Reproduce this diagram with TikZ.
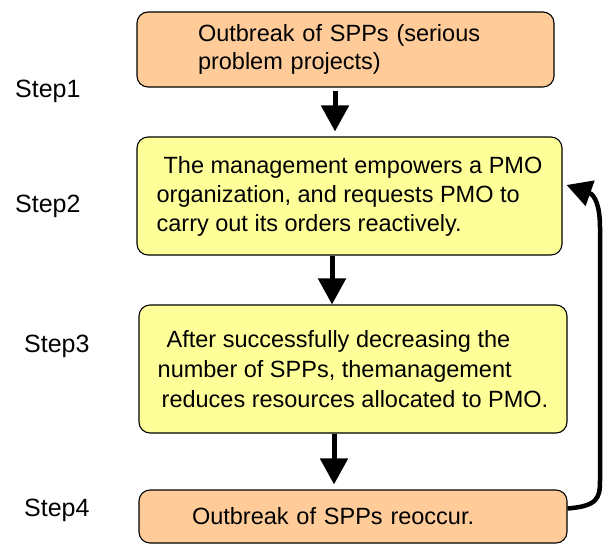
\documentclass[tikz,border=0pt]{standalone}
\usepackage{fontspec}
\setmainfont{Liberation Sans}
\usetikzlibrary{arrows.meta}
\definecolor{peach}{HTML}{FFCC99}
\definecolor{lyellow}{HTML}{FFFF99}
\tikzset{
  box/.style={draw=black, line width=1.1pt, rounded corners=11pt, inner sep=0pt,
    align=left, font=\fontsize{23.5}{29}\selectfont},
  orangebox/.style={box, fill=peach},
  yellowbox/.style={box, fill=lyellow},
  steplabel/.style={anchor=base west, inner sep=0pt, font=\fontsize{25}{30}\selectfont},
  downarrow/.style={line width=5pt, -{Triangle[length=26pt,width=27pt]}},
  backarrow/.style={line width=4.5pt, -{Triangle[length=25pt,width=26pt]}}
}
\begin{document}
\begin{tikzpicture}[x=1pt,y=-1pt]
\useasboundingbox (0,0) rectangle (604,544);
\node[orangebox, minimum width=417pt, minimum height=75pt, text width=295pt, font=\fontsize{23.5}{28}\selectfont] (b1) at (345.5,49.5)
  {Outbreak of SPPs (serious\\problem projects)};
\node[yellowbox, minimum width=425pt, minimum height=118pt] (b2) at (349.5,196)
  {\hspace{7pt}The management empowers a PMO\\organization, and requests PMO to\\carry out its orders reactively.};
\node[yellowbox, minimum width=428pt, minimum height=128pt, font=\fontsize{23.5}{30}\selectfont] (b3) at (353,369)
  {\hspace{9pt}After successfully decreasing the\\number of SPPs, themanagement\\\hspace{4pt}reduces resources allocated to PMO.};
\node[orangebox, minimum width=428pt, minimum height=53pt, text width=322pt] (b4) at (353,516.5)
  {Outbreak of SPPs reoccur.};
\node[steplabel] (s1) at (15,97) {Step1};
\node[steplabel] (s2) at (15,212) {Step2};
\node[steplabel] (s3) at (24,352) {Step3};
\node[steplabel] (s4) at (24,516) {Step4};
\draw[downarrow, shorten <=3pt, shorten >=5pt] ([xshift=-10.5pt]b1.south) -- ([xshift=-14.5pt]b2.north);
\draw[downarrow, shorten >=0pt] ([xshift=-17.5pt]b2.south) -- ([xshift=-21pt]b3.north);
\draw[downarrow, shorten >=5pt] ([xshift=-19pt]b3.south) -- ([xshift=-19pt]b4.north);
\coordinate (fbstart) at ([yshift=8pt]b4.east);
\coordinate (fbend) at ([shift={(4pt,11pt)}]b2.east);
\draw[backarrow] (fbstart) .. controls (598,506) and (600,498) .. (600,480)
  -- (600,228) .. controls (600,206) and (595,195) .. (fbend);
\end{tikzpicture}
\end{document}
